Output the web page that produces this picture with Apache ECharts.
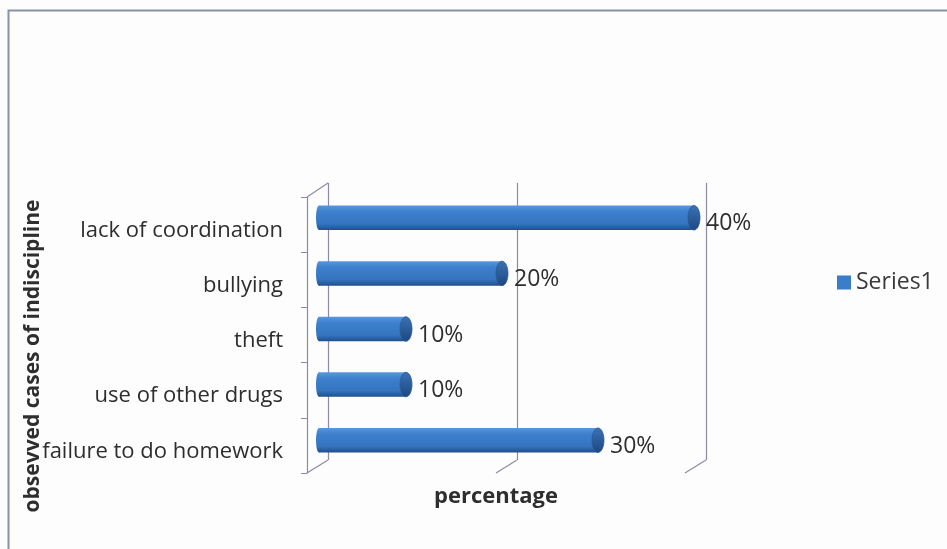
<!DOCTYPE html>
<html>
<head>
<meta charset="utf-8">
<script src="https://cdn.jsdelivr.net/npm/echarts@6/dist/echarts.min.js"></script>
<style>
  html, body { margin:0; padding:0; background:#fdfdfd; }
  #main { width:947px; height:549px; }
</style>
</head>
<body>
<div id="main"></div>
<script>
// categories listed bottom to top (as in the Excel chart)
var categories = ['failure to do homework', 'use of other drugs', 'theft', 'bullying', 'lack of coordination'];
var percentages = [30, 10, 10, 20, 40];
var gridTicks = [0, 20, 40];
var seriesName = 'Series1';

var chart = echarts.init(document.getElementById('main'));
var font = '"Open Sans", Lato, sans-serif';

function barItem(params, api){
  var val = api.value(0);
  var idx = api.value(1);
  var start = api.coord([0, idx]);
  var end = api.coord([val, idx]);
  var h = api.size([0, 1])[1] * 0.44;
  var cy = end[1];
  var rx = 6;
  var body = new echarts.graphic.LinearGradient(0, 0, 0, 1, [
    {offset:0, color:'#5a96dc'},
    {offset:0.25, color:'#3d80cd'},
    {offset:0.75, color:'#3574bf'},
    {offset:1, color:'#204f8c'}
  ]);
  var cap = new echarts.graphic.LinearGradient(0, 0, 0, 1, [
    {offset:0, color:'#3a72b6'},
    {offset:1, color:'#1d4780'}
  ]);
  return {
    type:'group',
    children:[
      {type:'ellipse', shape:{cx:start[0]+3, cy:cy, rx:3, ry:h/2}, style:{fill:body}},
      {type:'rect', shape:{x:start[0]+3, y:cy-h/2, width:Math.max(end[0]-start[0]-3-rx, 0), height:h}, style:{fill:body}},
      {type:'ellipse', shape:{cx:end[0]-rx, cy:cy, rx:rx, ry:h/2}, style:{fill:cap, stroke:'#2a5a96', lineWidth:0.8}},
      {type:'text', style:{text:val+'%', x:end[0]+6, y:cy+6, verticalAlign:'middle', font:'23px ' + font, fill:'#2e2e2e'}}
    ]
  };
}

function floorItem(params, api){
  var v = api.value(0);
  var b = api.coord([v, 0]);
  var children = [
    {type:'line', shape:{x1:b[0], y1:b[1], x2:b[0]-21, y2:b[1]+13}, style:{stroke:'#8c8aa8', lineWidth:1.2}}
  ];
  if (v === 0) {
    var t = api.coord([v, 1]);
    children.push({type:'line', shape:{x1:t[0], y1:t[1], x2:t[0]-21, y2:t[1]+14}, style:{stroke:'#8c8aa8', lineWidth:1.2}});
  }
  return {type:'group', children:children};
}

var option = {
  backgroundColor:'#fdfdfd',
  animation:false,
  graphic:[
    {type:'rect', left:6, top:8, shape:{width:960, height:560}, style:{fill:'none', stroke:'#8492aa', lineWidth:2}},
    {type:'text', x:496, y:497, style:{text:'percentage', font:'bold 22px ' + font, fill:'#2e2e2e', align:'center', verticalAlign:'middle'}},
    {type:'text', x:33, y:356, rotation:Math.PI/2, style:{text:'obsevved cases of indiscipline', font:'bold 21px ' + font, fill:'#2e2e2e', align:'center', verticalAlign:'middle'}}
  ],
  legend:{
    data:[seriesName],
    left:832, top:266,
    itemWidth:14, itemHeight:14,
    itemGap:6,
    icon:'rect',
    textStyle:{fontFamily:font, fontSize:23, color:'#3a3a3a'}
  },
  grid:[
    {left:307, top:197, height:276, width:380},   // front axis line + ticks
    {left:328, top:183, height:277, width:378},   // back wall / gridlines
    {left:316, top:190, height:278, width:384},   // bars
    {left:307, top:203, height:276, width:380}    // category labels
  ],
  xAxis:[
    {gridIndex:0, type:'value', min:0, max:40, show:false},
    {gridIndex:1, type:'value', min:0, max:40, interval:20,
      axisLine:{show:false}, axisTick:{show:false}, axisLabel:{show:false},
      splitLine:{show:true, lineStyle:{color:'#8c8aa8', width:1.2}}},
    {gridIndex:2, type:'value', min:0, max:40, show:false},
    {gridIndex:3, type:'value', min:0, max:40, show:false}
  ],
  yAxis:[
    {gridIndex:0, type:'category', data:categories,
      axisLine:{show:true, lineStyle:{color:'#8c8aa8', width:1.2}},
      axisTick:{show:true, length:6, lineStyle:{color:'#8c8aa8'}},
      axisLabel:{show:false}},
    {gridIndex:1, type:'value', min:0, max:1, show:false},
    {gridIndex:2, type:'category', data:categories, show:false},
    {gridIndex:3, type:'category', data:categories,
      axisLine:{show:false}, axisTick:{show:false},
      axisLabel:{fontFamily:font, fontSize:22, color:'#2e2e2e', margin:24}}
  ],
  series:[
    {type:'custom', xAxisIndex:1, yAxisIndex:1, renderItem:floorItem, silent:true,
      data:gridTicks.map(function(v){ return [v]; })},
    {type:'custom', name:seriesName, xAxisIndex:2, yAxisIndex:2, renderItem:barItem,
      itemStyle:{color:'#3a7dc9'},
      encode:{x:0, y:1},
      data:percentages.map(function(v, i){ return [v, i]; })}
  ]
};

chart.setOption(option);
</script>
</body>
</html>
